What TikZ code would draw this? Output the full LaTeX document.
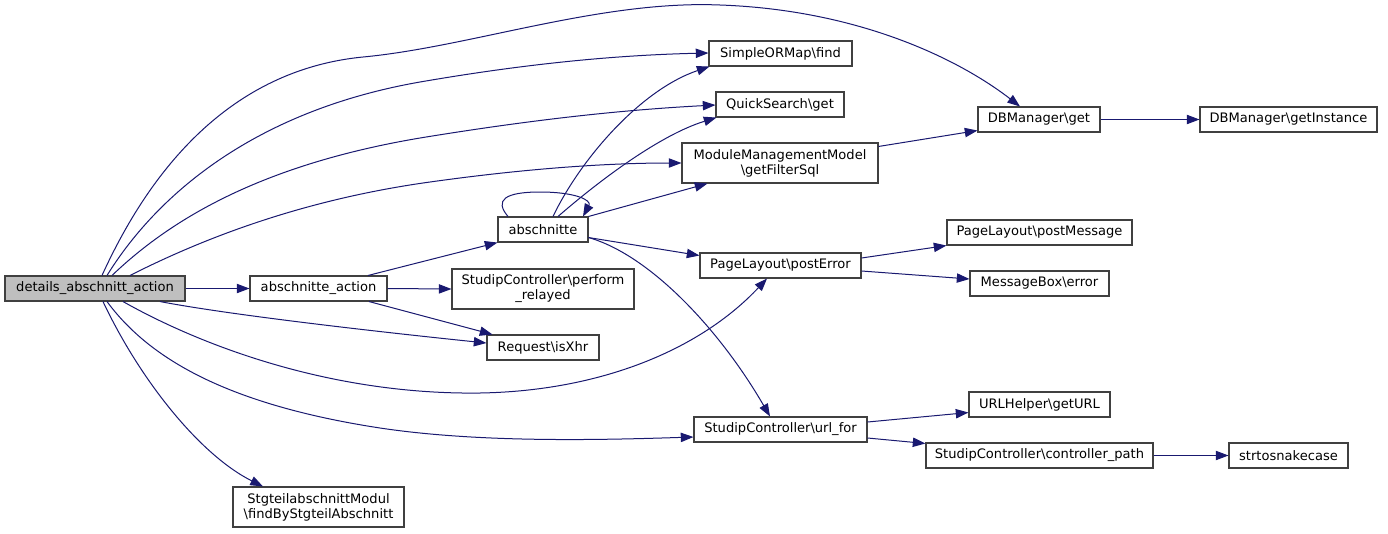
\documentclass[tikz,border=0pt]{standalone}
\usepackage{fontspec}
\setmainfont{DejaVu Sans}
\usetikzlibrary{arrows.meta,calc}
\definecolor{mblue}{HTML}{191970}
\begin{document}
\begin{tikzpicture}[x=0.75pt,y=-0.75pt,
  box/.style={draw=black!75, line width=0.8pt, fill=white, inner sep=0pt, align=center,
    font=\fontsize{9.8}{11.25}\selectfont},
  root/.style={box, fill=black!25},
  edge/.style={draw=mblue, line width=0.75pt, -{Triangle[length=9.5pt,width=7pt,fill=mblue]}}]
\fill[white] (0,0) rectangle (1388,533);
\useasboundingbox (0,0) rectangle (1388,533);

% nodes
\node[root, minimum width=180*0.75pt, minimum height=25*0.75pt] (D) at (95,288.5) {details\_abschnitt\_action};
\node[box, minimum width=137*0.75pt, minimum height=25*0.75pt] (AA) at (318.5,288.5) {abschnitte\_action};
\node[box, minimum width=171*0.75pt, minimum height=40*0.75pt] (STG) at (318.5,507) {StgteilabschnittModul\\\textbackslash findByStgteilAbschnitt};
\node[box, minimum width=90*0.75pt, minimum height=25*0.75pt] (A) at (543,229.5) {abschnitte};
\node[box, minimum width=182*0.75pt, minimum height=40*0.75pt] (PR) at (543,289) {StudipController\textbackslash perform\\\_relayed};
\node[box, minimum width=112*0.75pt, minimum height=25*0.75pt] (RX) at (543,347.5) {Request\textbackslash isXhr};
\node[box, minimum width=143*0.75pt, minimum height=25*0.75pt] (SF) at (780.5,53.5) {SimpleORMap\textbackslash find};
\node[box, minimum width=128*0.75pt, minimum height=25*0.75pt] (QS) at (780,104.5) {QuickSearch\textbackslash get};
\node[box, minimum width=196*0.75pt, minimum height=40*0.75pt] (MMM) at (780,163) {ModuleManagementModel\\\textbackslash getFilterSql};
\node[box, minimum width=161*0.75pt, minimum height=25*0.75pt] (PE) at (780.5,265.5) {PageLayout\textbackslash postError};
\node[box, minimum width=173*0.75pt, minimum height=25*0.75pt] (UF) at (780.5,429.5) {StudipController\textbackslash url\_for};
\node[box, minimum width=122*0.75pt, minimum height=25*0.75pt] (DBG) at (1039,119.5) {DBManager\textbackslash get};
\node[box, minimum width=177*0.75pt, minimum height=25*0.75pt] (DBI) at (1288.5,119.5) {DBManager\textbackslash getInstance};
\node[box, minimum width=185*0.75pt, minimum height=25*0.75pt] (PM) at (1039.5,232.5) {PageLayout\textbackslash postMessage};
\node[box, minimum width=139*0.75pt, minimum height=25*0.75pt] (MB) at (1039.5,283.5) {MessageBox\textbackslash error};
\node[box, minimum width=141*0.75pt, minimum height=25*0.75pt] (UG) at (1039.5,404.5) {URLHelper\textbackslash getURL};
\node[box, minimum width=227*0.75pt, minimum height=25*0.75pt] (CP) at (1039.5,455.5) {StudipController\textbackslash controller\_path};
\node[box, minimum width=119*0.75pt, minimum height=25*0.75pt] (ST) at (1288.5,455.5) {strtosnakecase};

% edges from details_abschnitt_action
\draw[edge] ($(D.north)+(7,0)$) .. controls (150,170) and (230,70) .. (363,57)
   .. controls (470,47) and (600,0) .. (720,5)
   .. controls (860,10) and (960,60) .. ($(DBG.north)+(-19,0)$);
\draw[edge] ($(D.north)+(12,0)$) .. controls (160,190) and (260,110) .. (420,82)
   .. controls (530,63) and (620,55) .. ($(SF.west)+(0,-0.5)$);
\draw[edge] ($(D.north)+(17,0)$) .. controls (170,220) and (260,165) .. (420,138)
   .. controls (530,120) and (620,110) .. ($(QS.west)+(0,0.5)$);
\draw[edge] ($(D.north)+(35,0)$) .. controls (200,240) and (300,200) .. (430,182)
   .. controls (530,168) and (610,163) .. (MMM.west);
\draw[edge] (D.east) -- (AA.west);
\draw[edge] ($(D.south)+(65,0)$) .. controls (230,315) and (380,332) .. ($(RX.west)+(0,-4.5)$);
\draw[edge] ($(D.south)+(28,0)$) .. controls (200,345) and (330,395) .. (480,393)
   .. controls (600,391) and (700,350) .. ($(PE.south)+(-13.5,0)$);
\draw[edge] ($(D.south)+(12,0)$) .. controls (150,360) and (230,405) .. (380,428)
   .. controls (480,443) and (600,440) .. ($(UF.west)+(0,7.5)$);
\draw[edge] ($(D.south)+(8,0)$) .. controls (140,380) and (200,455) .. ($(STG.north)+(-55.5,0)$);

% edges from abschnitte_action
\draw[edge] ($(AA.north)+(49.5,0)$) -- (A.south west);
\draw[edge] (AA.east) -- (PR.west);
\draw[edge] ($(AA.south)+(50.5,0)$) -- ($(RX.north west)+(6,0)$);

% edges from abschnitte
\draw[edge] ($(A.north)+(-35,0)$) .. controls (494,200) and (505,192) .. (540,192)
   .. controls (575,192) and (592,200) .. ($(A.north)+(40,0)$);
\draw[edge] ($(A.north)+(10,0)$) .. controls (580,160) and (640,90) .. ($(SF.south west)+(1,0)$);
\draw[edge] ($(A.north)+(15,0)$) .. controls (600,180) and (660,135) .. ($(QS.south west)+(1,0)$);
\draw[edge] (A.north east) -- ($(MMM.south west)+(26,0)$);
\draw[edge] ($(A.south east)+(0,-5)$) -- ($(PE.west)+(0,-10)$);
\draw[edge] ($(A.south east)+(0,-5)$) .. controls (650,255) and (720,330) .. ($(UF.north)+(-10.5,0)$);

% remaining edges
\draw[edge] ($(MMM.north east)+(0,4)$) -- ($(DBG.south west)+(0,-2)$);
\draw[edge] (DBG.east) -- (DBI.west);
\draw[edge] ($(PE.east)+(0,-7.5)$) -- (PM.south west);
\draw[edge] ($(PE.east)+(0,5.5)$) -- ($(MB.west)+(0,-4.5)$);
\draw[edge] ($(UF.east)+(0,-7.5)$) -- ($(UG.south west)+(0,-5)$);
\draw[edge] ($(UF.east)+(0,8.5)$) -- ($(CP.north west)+(0,1)$);
\draw[edge] (CP.east) -- (ST.west);
\end{tikzpicture}
\end{document}
